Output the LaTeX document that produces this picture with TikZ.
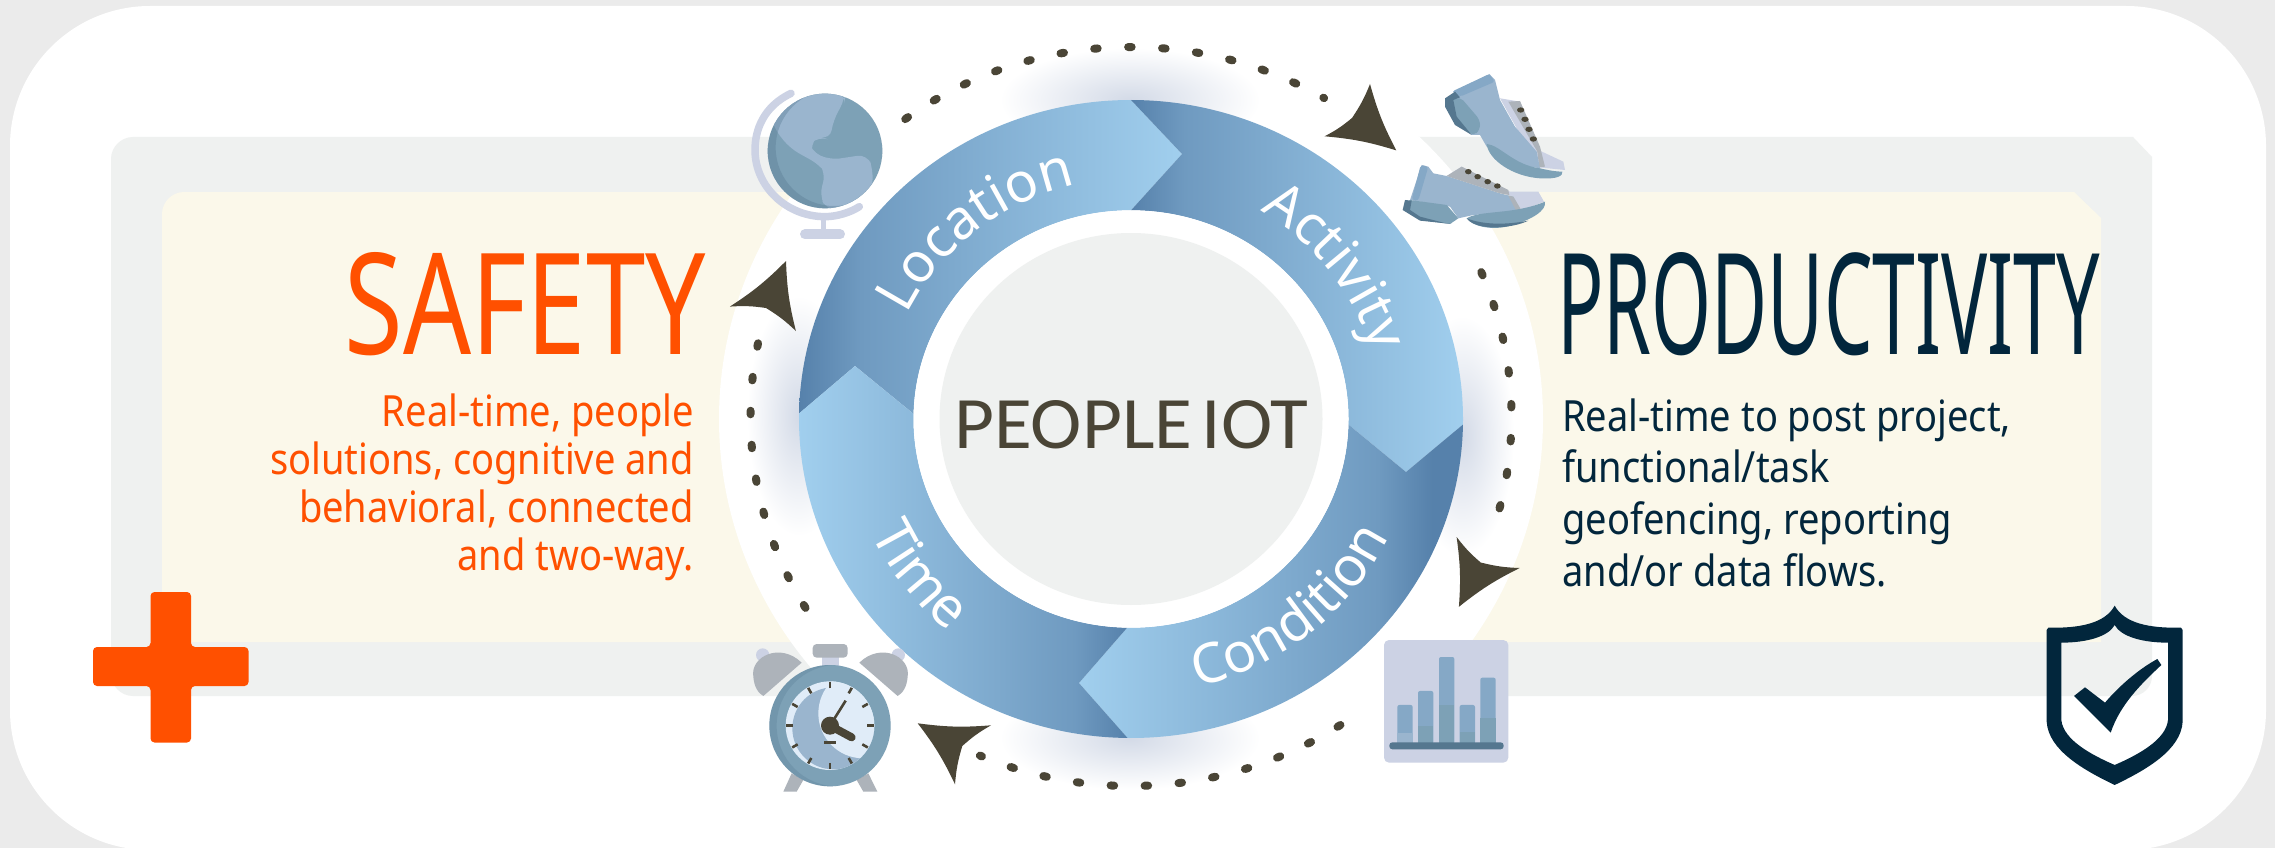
\documentclass[tikz,border=0pt]{standalone}
\usepackage{fontspec}
\usepackage{graphicx}
\usepackage{xcolor}
\usetikzlibrary{math}
\usetikzlibrary{calc}
\usetikzlibrary{decorations.text}

\setmainfont{Noto Sans}
\newfontfamily\bodyfont[FakeStretch=0.885]{Noto Sans}
\newfontfamily\centerfont{Carlito}

\definecolor{pagegray}{HTML}{EBEBEB}
\definecolor{panelgray}{HTML}{EFF1F0}
\definecolor{panelcream}{HTML}{FBF8EA}
\definecolor{safetyorange}{HTML}{FF5000}
\definecolor{prodnavy}{HTML}{02263C}
\definecolor{headdark}{HTML}{4A4536}
\definecolor{ringdark}{HTML}{5681AB}
\definecolor{ringmid}{HTML}{6F9AC0}
\definecolor{ringlight}{HTML}{A1CFEE}
\definecolor{glowblue}{HTML}{D3DAE7}
\definecolor{iconlight}{HTML}{9AB5CE}
\definecolor{iconmid}{HTML}{7DA1B6}
\definecolor{icondark}{HTML}{55778F}
\definecolor{iconpale}{HTML}{CCD2E4}
\definecolor{icongray}{HTML}{ADB3BA}
\definecolor{facelight}{HTML}{E0ECF8}
\definecolor{barblue}{HTML}{85A8C6}

\pgfdeclarehorizontalshading{darkleft}{100bp}{color(0bp)=(ringdark);color(25bp)=(ringdark);color(33bp)=(ringmid);color(75bp)=(ringlight);color(100bp)=(ringlight)}
\pgfdeclarehorizontalshading{darkright}{100bp}{color(0bp)=(ringlight);color(25bp)=(ringlight);color(67bp)=(ringmid);color(75bp)=(ringdark);color(100bp)=(ringdark)}
\pgfdeclarehorizontalshading{darkrightwide}{100bp}{color(0bp)=(ringlight);color(25bp)=(ringlight);color(64bp)=(ringmid);color(71bp)=(ringdark);color(100bp)=(ringdark)}
\pgfdeclareradialshading{glowshade}{\pgfpoint{0bp}{0bp}}{color(0bp)=(glowblue);color(25bp)=(white);color(50bp)=(white)}

\tikzset{
  dotline/.style={headdark,line width=8pt,line cap=round,dash pattern=on 3.5pt off 30.5pt},
  bigtitle/.style={anchor=base west,inner sep=0pt},
  bodytext/.style={inner sep=0pt,font=\bodyfont\fontsize{43}{48}\selectfont},
  ringlabel/.style={decorate,decoration={text along path,text color=white,text align={center},text={|\fontsize{55}{55}\selectfont|#1}}},
  iconscope/.style={x=0.3333pt,y=-0.3333pt}
}

\newcommand{\flowhead}[4]{\fill[headdark] (#1) to[bend right=6] (#2) to[bend right=6] (#3) to[bend right=6] (#4) to[bend right=6] (#1) -- cycle;}

\begin{document}
\begin{tikzpicture}[x=1pt,y=-1pt]

  \tikzmath{
    \rox = 332;   % outer radii of the ring
    \roy = 319;
    \rix = 217.5; % inner radii of the ring
    \riy = 208.7;
  }

  \useasboundingbox (0,0) rectangle (2275,848);

  % Page and panels
  \fill[pagegray] (0,0) rectangle (2275,848);
  \fill[white,rounded corners=140pt] (10,6) rectangle (2266,850);
  \fill[panelgray] (111,159) .. controls (111,147) and (121,137) .. (133,137) -- (2133,137) -- (2152,157) -- (2152,676)
    .. controls (2152,687) and (2143,696) .. (2132,696) -- (133,696) .. controls (121,696) and (111,686) .. (111,674) -- cycle;
  \fill[panelcream] (162,214) .. controls (162,202) and (172,192) .. (184,192) -- (2074,192) -- (2101,218) -- (2101,642) -- (162,642) -- cycle;
  \fill[white] (1131,419) ellipse [x radius=412, y radius=395];

  % Soft glow at the four joints
  \shade[shading=glowshade] (1130,100) ellipse [x radius=130, y radius=52];
  \shade[shading=glowshade] (1130,738) ellipse [x radius=130, y radius=52];
  \shade[shading=glowshade] (799,416) ellipse [x radius=52, y radius=120];
  \shade[shading=glowshade] (1462,436) ellipse [x radius=52, y radius=120];

  % Dotted circle
  \begin{scope}[shift={(1131,416.5)},y=1pt]
    \draw[dotline] (126.4:380.5 and 369.5) arc [start angle=126.4, end angle=59.5, x radius=380.5pt, y radius=369.5pt];
    \draw[dotline] (23:380.5 and 369.5) arc [start angle=23, end angle=-18.3, x radius=380.5pt, y radius=369.5pt];
    \draw[dotline] (-56.6:380.5 and 369.5) arc [start angle=-56.6, end angle=-113.4, x radius=380.5pt, y radius=369.5pt];
    \draw[dotline] (-148.8:380.5 and 369.5) arc [start angle=-148.8, end angle=-195.1, x radius=380.5pt, y radius=369.5pt];
  \end{scope}

  % Arrow heads on the dotted circle
  \flowhead{1370,84}{1396.3,150.4}{1324.6,136.3}{1352,118}
  \flowhead{1456.6,537}{1480.7,562.5}{1519.7,568}{1458.9,606.8}
  \flowhead{917.7,723.3}{991,725.3}{962.3,746}{955,784.3}
  \flowhead{786,261}{795.9,331}{766,308}{729.9,306.6}

  % Ring
  \begin{scope}[shift={(1131,419)},y=1pt]
    \coordinate (TopTip) at (51,265);
    \coordinate (RightTip) at (275,-53);
    \coordinate (BottomTip) at (-52,-264);
    \coordinate (LeftTip) at (-276,53);

    \shade[shading=darkleft] (179:{\rox} and {\roy}) arc [start angle=179, end angle=90, x radius=\rox pt, y radius=\roy pt]
      -- (TopTip) -- (90:{\rix} and {\riy}) arc [start angle=90, end angle=178.6, x radius=\rix pt, y radius=\riy pt] -- (LeftTip) -- cycle;
    \shade[shading=darkleft] (90:{\rox} and {\roy}) arc [start angle=90, end angle=-1, x radius=\rox pt, y radius=\roy pt]
      -- (RightTip) -- (-1.5:{\rix} and {\riy}) arc [start angle=-1.5, end angle=90, x radius=\rix pt, y radius=\riy pt] -- (TopTip) -- cycle;
    \shade[shading=darkrightwide] (-1:{\rox} and {\roy}) arc [start angle=-1, end angle=-90.6, x radius=\rox pt, y radius=\roy pt]
      -- (BottomTip) -- (-91:{\rix} and {\riy}) arc [start angle=-91, end angle=-1.5, x radius=\rix pt, y radius=\riy pt] -- (RightTip) -- cycle;
    \shade[shading=darkright] (-90.6:{\rox} and {\roy}) arc [start angle=-90.6, end angle=-181, x radius=\rox pt, y radius=\roy pt]
      -- (LeftTip) -- (-181.4:{\rix} and {\riy}) arc [start angle=-181.4, end angle=-91, x radius=\rix pt, y radius=\riy pt] -- (BottomTip) -- cycle;

    % Labels on the ring
    \path[ringlabel=Location] (153:249 and 240) arc [start angle=153, end angle=104, x radius=249pt, y radius=240pt];
    \path[ringlabel=Activity] (59:251 and 242) arc [start angle=59, end angle=16, x radius=251pt, y radius=242pt];
    \path[ringlabel=Condition] (-78:286 and 275) arc [start angle=-78, end angle=-24, x radius=286pt, y radius=275pt];
    \path[ringlabel=Time] (204:286 and 275) arc [start angle=204, end angle=231, x radius=286pt, y radius=275pt];

    % Centre
    \fill[white] (0,0) ellipse [x radius=\rix, y radius=\riy];
    \fill[panelgray] (0,0) ellipse [x radius=191.5, y radius=186];
  \end{scope}

  \node[bigtitle,text=headdark] (centertitle) at (954,448) {\resizebox{354pt}{48pt}{\centerfont PEOPLE\hspace{-0.1em} IOT}};

  % Globe
  \begin{scope}[shift={(730,70)},iconscope]
    \draw[iconpale,line width=7.5pt,line cap=round] (183,70) .. controls (100,110) and (75,180) .. (75,240)
      .. controls (75,350) and (170,440) .. (285,440) .. controls (320,440) and (360,428) .. (388,410);
    \draw[iconpale,line width=5pt] (280,440) -- (280,490);
    \draw[iconpale,line width=10pt,line cap=round] (225,493) -- (330,493);
    \fill[iconmid] (285,243) circle [radius=172];
    \begin{scope}
      \clip (285,243) circle [radius=172];
      \fill[iconlight,rounded corners=10pt] (345,70) -- (345,88) -- (310,150) -- (300,210) -- (265,198) -- (238,225) -- (245,245)
        -- (300,270) -- (412,253) -- (430,300) -- (420,420) -- (290,420) -- (268,375) -- (288,310) -- (270,285) -- (180,235) -- (132,175) -- (100,60) -- cycle;
      \fill[icondark,opacity=0.35,even odd rule] (285,243) circle [radius=172] (312,233) circle [radius=175];
    \end{scope}
  \end{scope}

  % Shoes
  \begin{scope}[shift={(1400,50)},iconscope]
    \fill[iconpale] (300,145) -- (360,155) -- (415,300) -- (490,335) -- (495,360) -- (415,352) -- cycle;
    \fill[icongray] (325,155) -- (360,153) -- (420,290) -- (435,350) -- (418,352) -- (412,305) -- cycle;
    \fill[iconlight] (165,125) -- (268,72) -- (285,90) -- (300,150) -- (345,230) -- (410,305) -- (420,355) -- (330,340) -- (260,290) -- (240,255) -- (215,255) -- (165,200) -- cycle;
    \fill[barblue,rounded corners=3pt] (155,125) -- (268,72) -- (285,95) -- (180,140) -- cycle;
    \fill[iconmid,rounded corners=5pt] (180,140) -- (240,210) -- (240,240) -- (220,258) -- (175,225) -- (135,160) -- cycle;
    \fill[icondark] (135,145) -- (165,125) -- (180,142) -- (160,150) -- (170,200) -- (215,255) -- (165,225) -- (135,170) -- cycle;
    \fill[iconmid] (260,282) .. controls (300,285) and (340,345) .. (420,355) .. controls (450,362) and (470,365) .. (487,365)
      .. controls (490,378) and (470,388) .. (420,385) .. controls (340,380) and (265,330) .. (260,282) -- cycle;
    \foreach \lx/\ly in {362/180,375/208,387/238,400/267}
      \fill[headdark] (\lx,\ly) ellipse [x radius=11, y radius=8];

    \fill[iconpale] (140,378) -- (185,350) -- (330,425) -- (415,425) -- (432,455) -- (365,482) -- (340,440) -- cycle;
    \fill[iconlight] (65,345) -- (85,350) -- (100,370) -- (140,378) -- (300,430) -- (340,440) -- (365,485) -- (220,495) -- (175,505) -- (150,470) -- (30,450) -- cycle;
    \fill[icongray] (140,378) -- (185,350) -- (325,420) -- (328,435) -- (300,430) -- cycle;
    \fill[icongray] (325,437) -- (340,440) -- (365,482) -- (350,485) -- cycle;
    \fill[barblue,rounded corners=3pt] (35,450) -- (62,345) -- (85,350) -- (55,452) -- cycle;
    \fill[iconmid] (30,450) -- (140,465) -- (175,505) -- (150,522) -- (60,510) -- (10,480) -- cycle;
    \fill[icondark] (8,480) -- (15,450) -- (35,452) -- (30,480) -- (60,500) -- (130,518) -- (155,522) -- (60,512) -- cycle;
    \fill[iconmid] (200,505) .. controls (240,480) and (340,495) .. (435,455) .. controls (440,480) and (400,510) .. (320,530) .. controls (270,540) and (220,530) .. (200,505) -- cycle;
    \fill[icondark] (200,505) .. controls (250,525) and (320,525) .. (385,512) .. controls (340,535) and (230,545) .. (200,505) -- cycle;
    \foreach \lx/\ly in {205/365,233/380,263/395,292/408}
      \fill[headdark] (\lx,\ly) ellipse [x radius=10, y radius=8];
  \end{scope}

  % Alarm clock
  \begin{scope}[shift={(730,620)},iconscope]
    \fill[iconpale] (98,105) circle [radius=20] (505,105) circle [radius=20];
    \fill[icongray] (215,128) .. controls (150,65) and (60,110) .. (70,170) .. controls (72,200) and (85,220) .. (100,228) -- cycle;
    \fill[icongray] (388,128) .. controls (453,65) and (543,110) .. (533,170) .. controls (531,200) and (518,220) .. (503,228) -- cycle;
    \fill[iconpale] (275,105) rectangle (328,150);
    \fill[icongray,rounded corners=4pt] (248,72) rectangle (353,113);
    \fill[icongray] (185,460) -- (220,480) -- (200,515) -- (160,515) -- cycle;
    \fill[icongray] (380,480) -- (415,460) -- (442,515) -- (400,515) -- cycle;
    \fill[iconmid] (300,317) circle [radius=182];
    \begin{scope}
      \clip (300,317) circle [radius=182];
      \fill[icondark,opacity=0.25,even odd rule] (300,317) circle [radius=182] (322,317) circle [radius=182];
    \end{scope}
    \fill[facelight] (300,317) circle [radius=133];
    \begin{scope}
      \clip (300,317) circle [radius=133];
      \fill[iconlight] (310,325) circle [radius=123];
      \fill[facelight] (400,280) circle [radius=135];
    \end{scope}
    \foreach \tick in {0,30,...,330}
      \draw[headdark,line width=2.6pt] ($(300,317)+(\tick:112)$) -- ($(300,317)+(\tick:131)$);
    \draw[headdark,line width=2.6pt] (283,368) -- (318,368);
    \draw[headdark,line width=2.6pt] (300,317) -- (347,242);
    \draw[headdark,line width=8pt,line cap=round] (300,317) -- (365,352);
    \fill[headdark] (300,317) circle [radius=27];
  \end{scope}

  % Bar chart
  \begin{scope}[shift={(1360,620)},iconscope]
    \fill[iconpale,rounded corners=5pt] (72,60) rectangle (445,428);
    \foreach \barx/\bartop/\barmid in {112/255/338,174/213/318,237/111/255,299/255/335,361/173/295} {
      \fill[barblue,rounded corners=2pt] (\barx,\bartop) rectangle (\barx+46,372);
      \fill[iconmid] (\barx,\barmid) rectangle (\barx+46,372);
    }
    \fill[iconlight] (112,338) rectangle (158,372);
    \fill[icondark,rounded corners=3pt] (88,367) rectangle (431,388);
  \end{scope}

  % Cross
  \fill[safetyorange,rounded corners=4pt] (150.5,647) -- (150.5,592) -- (191,592) -- (191,647) -- (248.5,647) -- (248.5,686)
    -- (191,686) -- (191,742.5) -- (150.5,742.5) -- (150.5,686) -- (93,686) -- (93,647) -- cycle;

  % Shield
  \begin{scope}[shift={(2020,590)},iconscope]
    \fill[prodnavy,even odd rule] (284,47) .. controls (255,100) and (180,115) .. (85,113) -- (80,120) -- (80,395)
      .. controls (85,480) and (190,540) .. (284,585) .. controls (378,540) and (483,480) .. (488,395) -- (488,120) -- (483,113)
      .. controls (388,115) and (313,100) .. (284,47) -- cycle
      (284,105) .. controls (265,140) and (200,158) .. (124,158) -- (124,390) .. controls (130,450) and (215,495) .. (284,525)
      .. controls (353,495) and (438,450) .. (444,390) -- (444,158) .. controls (368,158) and (303,140) .. (284,105) -- cycle;
    \fill[prodnavy] (162,318) -- (195,292) -- (255,338) .. controls (300,285) and (360,235) .. (412,207) -- (424,225)
      .. controls (360,285) and (300,345) .. (272,428) -- cycle;
  \end{scope}

  % Left and right texts
  \node[bigtitle,text=safetyorange] (safetytitle) at (344.5,354) {\resizebox{361pt}{102pt}{SAFETY}};
  \node[bodytext,anchor=base east,align=right,text=safetyorange] (safetytext) at (694,570.5)
    {Real-time, people\\solutions, cognitive and\\behavioral, connected\\and two-way.};
  \node[bigtitle,text=prodnavy] (prodtitle) at (1557,354) {\resizebox{543pt}{102pt}{PRODUCTIVITY}};
  \node[bodytext,anchor=base west,align=left,text=prodnavy,font=\bodyfont\fontsize{43}{51.6}\selectfont] (prodtext) at (1562,586)
    {Real-time to post project,\\functional/task\\geofencing, reporting\\and/or data flows.};

\end{tikzpicture}
\end{document}
